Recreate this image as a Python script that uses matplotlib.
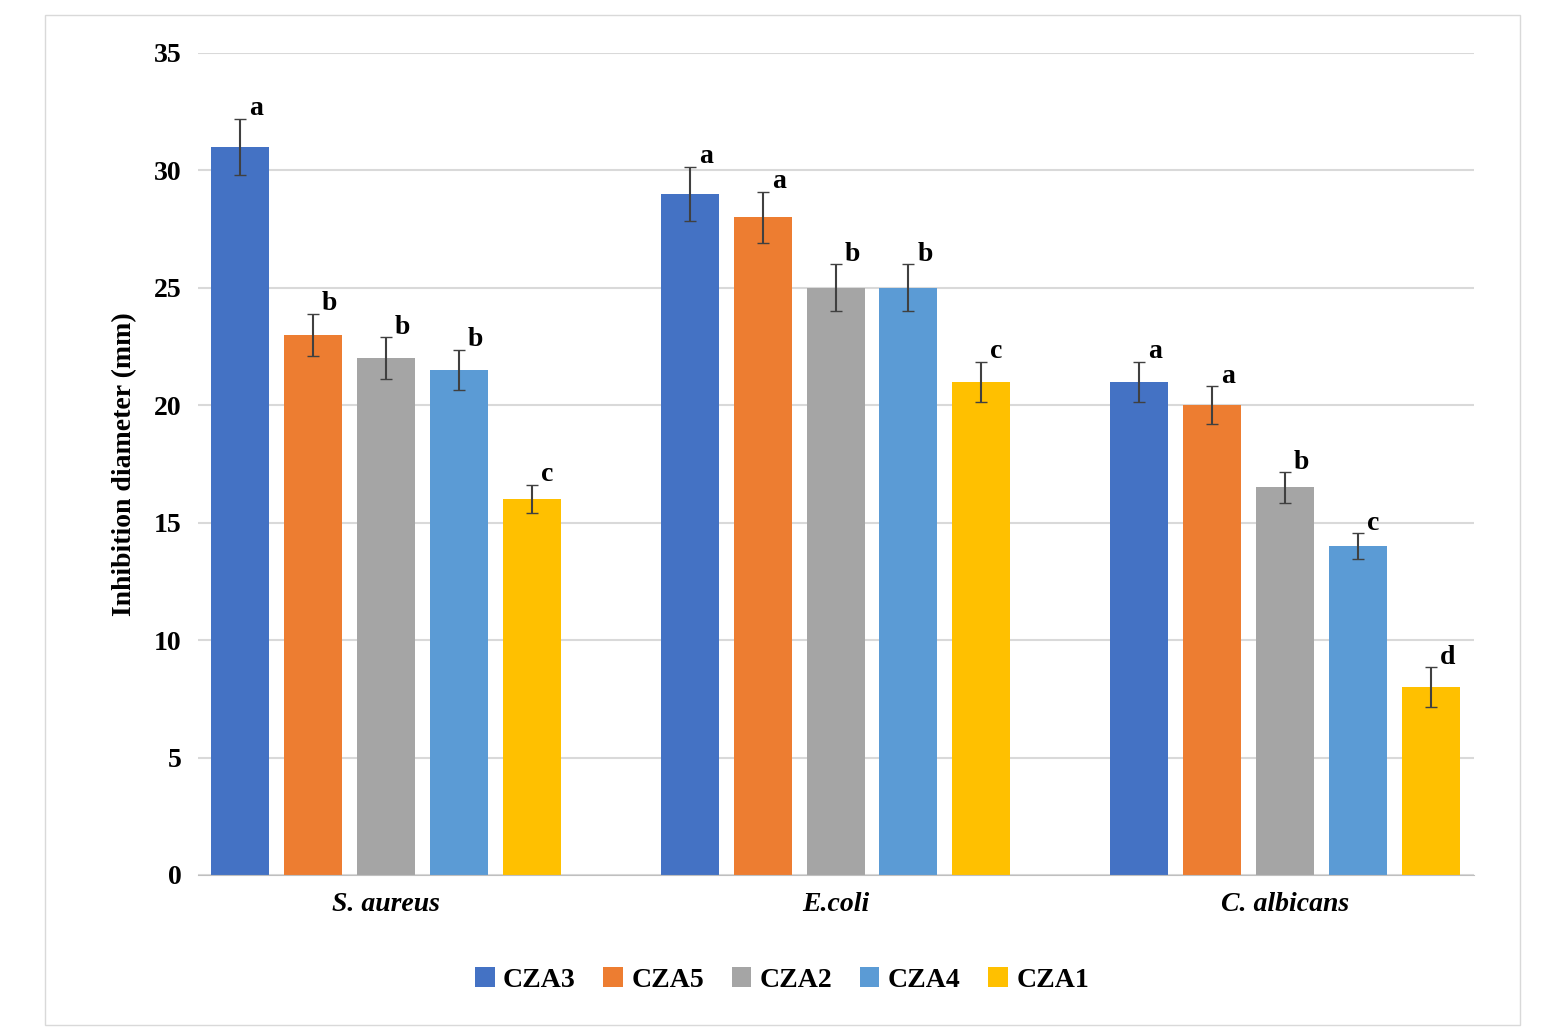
import matplotlib
matplotlib.use("Agg")
import matplotlib.pyplot as plt
import numpy as np
from matplotlib.patches import Rectangle

categories = ["S. aureus", "E.coli", "C. albicans"]
series = ["CZA3", "CZA5", "CZA2", "CZA4", "CZA1"]
colors = ["#4472C4", "#ED7D31", "#A5A5A5", "#5B9BD5", "#FFC000"]
values = [[31, 29, 21], [23, 28, 20], [22, 25, 16.5], [21.5, 25, 14], [16, 21, 8]]
errors = [[1.2, 1.15, 0.85], [0.9, 1.1, 0.8], [0.9, 1.0, 0.65], [0.85, 1.0, 0.55], [0.6, 0.85, 0.85]]
letters = [["a", "a", "a"], ["b", "a", "a"], ["b", "b", "b"], ["b", "b", "c"], ["c", "c", "d"]]

plt.rcParams['font.family'] = ['Liberation Serif', 'DejaVu Serif']
fig = plt.figure(figsize=(15.41, 10.32), dpi=100)
fig.patches.append(Rectangle((45/1541, 1-1025/1032), 1475/1541, 1010/1032, transform=fig.transFigure,
                             fill=False, edgecolor="#D9D9D9", lw=1))
ax = fig.add_axes([198/1541, 1-875/1032, 1276/1541, 822/1032])
x = np.arange(len(categories))
w, step = 0.129, 0.162
for i, s in enumerate(series):
    xs = x + (i - 2) * step
    ax.bar(xs, values[i], w, color=colors[i], label=s, zorder=2)
    ax.errorbar(xs, values[i], yerr=errors[i], fmt="none", ecolor="#404040", capsize=4, lw=1.5, zorder=3)
    for xx, v, e, l in zip(xs, values[i], errors[i], letters[i]):
        ax.text(xx + 0.02, v + e - 0.1, l, fontsize=20, fontweight="bold", ha="left", va="bottom")
ax.set_xlim(-0.418, 2.42)
ax.set_ylim(0, 35)
ax.set_yticks(range(0, 36, 5))
ax.yaxis.grid(True, color="#D9D9D9", lw=1.5, zorder=0)
ax.set_axisbelow(True)
for sp in ["top", "right", "left"]:
    ax.spines[sp].set_visible(False)
ax.spines["bottom"].set_color("#BFBFBF")
ax.tick_params(length=0, labelsize=20, pad=12)
ax.set_xticks(x)
ax.set_xticklabels(categories, fontstyle="italic", fontweight="bold", fontsize=20)
for t in ax.get_yticklabels():
    t.set_fontweight("bold")
ax.set_ylabel("Inhibition diameter (mm)", fontsize=20, fontweight="bold", labelpad=12)
leg = fig.legend(loc="center", bbox_to_anchor=(782/1541, 1-980/1032), ncol=5, frameon=False,
                 prop={"size": 20, "weight": "bold"}, handlelength=0.7, handleheight=0.7,
                 columnspacing=1.0, handletextpad=0.3)
fig.savefig("out.png", dpi=100)
